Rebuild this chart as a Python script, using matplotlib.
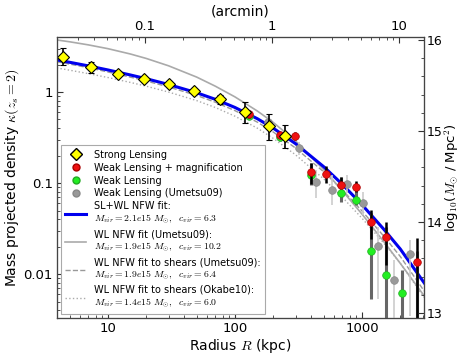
import matplotlib
matplotlib.use('Agg')
import matplotlib.pyplot as plt
from matplotlib.lines import Line2D
from matplotlib import ticker
import numpy as np

plt.rcParams['mathtext.fontset'] = 'cm'

# ── data ────────────────────────────────────────────────────────────────────
# strong lensing (kpc, kappa, lower err, upper err)
sl_r = [4.4, 7.35, 11.9, 19.2, 30.2, 47.5, 76, 120, 184, 248]
sl_k = [2.44, 1.90, 1.58, 1.38, 1.21, 1.03, 0.83, 0.61, 0.42, 0.33]
sl_lo = [0.46, 0.27, 0.10, 0.08, 0.06, 0.05, 0.09, 0.15, 0.12, 0.09]
sl_hi = [0.58, 0.25, 0.10, 0.08, 0.06, 0.05, 0.10, 0.17, 0.16, 0.10]

# weak lensing + magnification
wm_r = [130, 226, 298, 394, 518, 687, 897, 1178, 1545, 2699]
wm_k = [0.57, 0.337, 0.33, 0.133, 0.126, 0.0958, 0.091, 0.0376, 0.0253, 0.0137]
wm_top = [0.62, 0.36, 0.366, 0.168, 0.154, 0.117, 0.106, 0.0507, 0.0376, 0.0247]
wm_bot = [0.52, 0.31, 0.297, 0.097, 0.099, 0.0873, 0.080, 0.0241, 0.0125, 0.001]

# weak lensing (shear only)
wl_r = [130, 226, 394, 687, 897, 1178, 1545, 2050, 2699]
wl_k = [0.55, 0.323, 0.122, 0.078, 0.065, 0.018, 0.0098, 0.0062, 0.0010]
wl_top = [0.60, 0.36, 0.165, 0.117, 0.100, 0.0465, 0.033, 0.011, 0.018]
wl_bot = [0.50, 0.29, 0.095, 0.062, 0.058, 0.0054, 0.0005, 0.0005, 0.0005]

# weak lensing (Umetsu09)
um_r = [183, 321, 434, 577, 765, 1012, 1343, 1786, 2388]
um_k = [0.47, 0.244, 0.103, 0.0838, 0.0975, 0.0608, 0.0203, 0.00875, 0.0165]
um_top = [0.55, 0.285, 0.141, 0.122, 0.122, 0.079, 0.033, 0.0143, 0.0237]
um_bot = [0.40, 0.203, 0.068, 0.057, 0.077, 0.0446, 0.0054, 0.001, 0.0035]

# NFW model curves read at these radii
curve_r = [3.96, 5, 7, 10, 15, 20, 30, 50, 70, 100, 150, 200, 300, 500,
           700, 1000, 1500, 2000, 3080]
fit_slwl = [2.249, 2.118, 1.935, 1.745, 1.538, 1.399, 1.209, 0.980, 0.831,
            0.676, 0.509, 0.401, 0.2705, 0.151, 0.0969, 0.0578, 0.0306,
            0.0189, 0.00805]
fit_um09 = [3.724, 3.555, 3.290, 2.988, 2.613, 2.335, 1.938, 1.456, 1.158,
            0.883, 0.618, 0.4635, 0.2896, 0.1402, 0.0824, 0.0456, 0.02233,
            0.01315, 0.0058]
fit_um09_shear = [2.148, 2.023, 1.848, 1.658, 1.455, 1.320, 1.136, 0.915,
                  0.772, 0.624, 0.4663, 0.3638, 0.2422, 0.1327, 0.0840,
                  0.0494, 0.02566, 0.01565, 0.00655]
fit_ok10 = [1.837, 1.734, 1.591, 1.441, 1.274, 1.158, 0.998, 0.804, 0.676,
            0.542, 0.4006, 0.3097, 0.2042, 0.1109, 0.0699, 0.0411, 0.0215,
            0.0132, 0.00557]

labels = [
    "Strong Lensing",
    "Weak Lensing + magnification",
    "Weak Lensing",
    "Weak Lensing (Umetsu09)",
    "SL+WL NFW fit:\n$M_{vir}=2.1e15\\ M_{\\odot},\\ \\ c_{vir}=6.3$",
    "WL NFW fit (Umetsu09):\n$M_{vir}=1.9e15\\ M_{\\odot},\\ \\ c_{vir}=10.2$",
    "WL NFW fit to shears (Umetsu09):\n$M_{vir}=1.9e15\\ M_{\\odot},\\ \\ c_{vir}=6.4$",
    "WL NFW fit to shears (Okabe10):\n$M_{vir}=1.4e15\\ M_{\\odot},\\ \\ c_{vir}=6.0$",
]

KPC_PER_ARCMIN = 195.0
XMIN, XMAX = 3.96, 3080
YMIN, YMAX = 0.0033, 4.0
LOGS_MIN, LOGS_MAX = 12.945, 16.03


def errs(k, lo, hi):
    k = np.array(k)
    return [k - np.array(lo), np.array(hi) - k]


fig = plt.figure(figsize=(4.62, 3.57), dpi=100)
ax = fig.add_axes([0.123, 0.109, 0.795, 0.787])
ax.set_xscale('log')
ax.set_yscale('log')

# curves
ax.plot(curve_r, fit_ok10, ':', color='#aaaaaa', lw=1.0, zorder=2)
ax.plot(curve_r, fit_um09_shear, '--', color='#999999', lw=1.0, zorder=2)
ax.plot(curve_r, fit_um09, '-', color='#aaaaaa', lw=1.2, zorder=2)
ax.plot(curve_r, fit_slwl, '-', color='#0000ee', lw=2.2, zorder=3)

# data
ax.errorbar(um_r, um_k, yerr=errs(um_k, um_bot, um_top), fmt='o',
            color='#999999', ecolor='#cccccc', elinewidth=1.2, ms=5.5,
            mec='#888888', mew=0.5, zorder=4)
ax.errorbar(wl_r, wl_k, yerr=errs(wl_k, wl_bot, wl_top), fmt='o',
            color='#22ee22', ecolor='#666666', elinewidth=2.2, ms=5.5,
            mec='#22aa22', mew=0.5, zorder=5)
ax.errorbar(wm_r, wm_k, yerr=errs(wm_k, wm_bot, wm_top), fmt='o',
            color='#ee1111', ecolor='black', elinewidth=1.8, ms=5.5,
            mec='#aa0000', mew=0.5, zorder=6)
ax.errorbar(sl_r, sl_k, yerr=[sl_lo, sl_hi], fmt='D', color='yellow',
            ecolor='black', elinewidth=1.2, capsize=2.5, capthick=1.2,
            ms=6.5, mec='black', mew=0.8, zorder=7)

ax.set_xlim(XMIN, XMAX)
ax.set_ylim(YMIN, YMAX)

fmt = ticker.FuncFormatter(lambda v, _: f"{v:g}")
ax.xaxis.set_major_formatter(fmt)
ax.yaxis.set_major_formatter(fmt)
ax.xaxis.set_minor_formatter(ticker.NullFormatter())
ax.yaxis.set_minor_formatter(ticker.NullFormatter())
ax.set_xlabel('Radius $R$ (kpc)', fontsize=10, labelpad=1)
ax.set_ylabel('Mass projected density $\\kappa(z_s=2)$', fontsize=10, labelpad=2)

# top axis: arcmin
axt = ax.twiny()
axt.set_xscale('log')
axt.set_xlim(XMIN / KPC_PER_ARCMIN, XMAX / KPC_PER_ARCMIN)
axt.xaxis.set_major_formatter(fmt)
axt.xaxis.set_minor_formatter(ticker.NullFormatter())
axt.set_xlabel('(arcmin)', fontsize=10, labelpad=3)

# right axis: log surface density
axr = ax.twinx()
axr.set_ylim(LOGS_MIN, LOGS_MAX)
axr.yaxis.set_major_locator(ticker.MultipleLocator(1))
axr.yaxis.set_minor_locator(ticker.MultipleLocator(0.2))
axr.set_ylabel('log$_{10}$($M_{\\odot}$ / Mpc$^2$)', fontsize=9.5, labelpad=0)

for a in (ax, axt, axr):
    a.tick_params(which='both', direction='in', labelsize=9.5, colors='#333333',
                  labelcolor='black', pad=3)
    a.tick_params(which='major', length=4)
    a.tick_params(which='minor', length=2)
    for s in a.spines.values():
        s.set_color('#444444')
axr.tick_params(which='both', labelsize=9, pad=2)

handles = [
    Line2D([], [], ls='none', marker='D', color='yellow', mec='black', ms=6),
    Line2D([], [], ls='none', marker='o', color='#ee1111', mec='#aa0000', ms=5),
    Line2D([], [], ls='none', marker='o', color='#22ee22', mec='#22aa22', ms=5),
    Line2D([], [], ls='none', marker='o', color='#999999', mec='#888888', ms=5),
    Line2D([], [], ls='-', color='#0000ee', lw=2.2),
    Line2D([], [], ls='-', color='#aaaaaa', lw=1.2),
    Line2D([], [], ls='--', color='#999999', lw=1.0),
    Line2D([], [], ls=':', color='#aaaaaa', lw=1.0),
]
leg = axr.legend(handles, labels, loc='lower left', bbox_to_anchor=(0.0, 0.0),
                 fontsize=7.0, fancybox=False, framealpha=1, edgecolor='#aaaaaa',
                 handlelength=2.2, labelspacing=0.3, borderaxespad=0.4,
                 handletextpad=0.8, borderpad=0.45)
leg.get_frame().set_linewidth(0.8)

fig.savefig('out.png', dpi=100)
